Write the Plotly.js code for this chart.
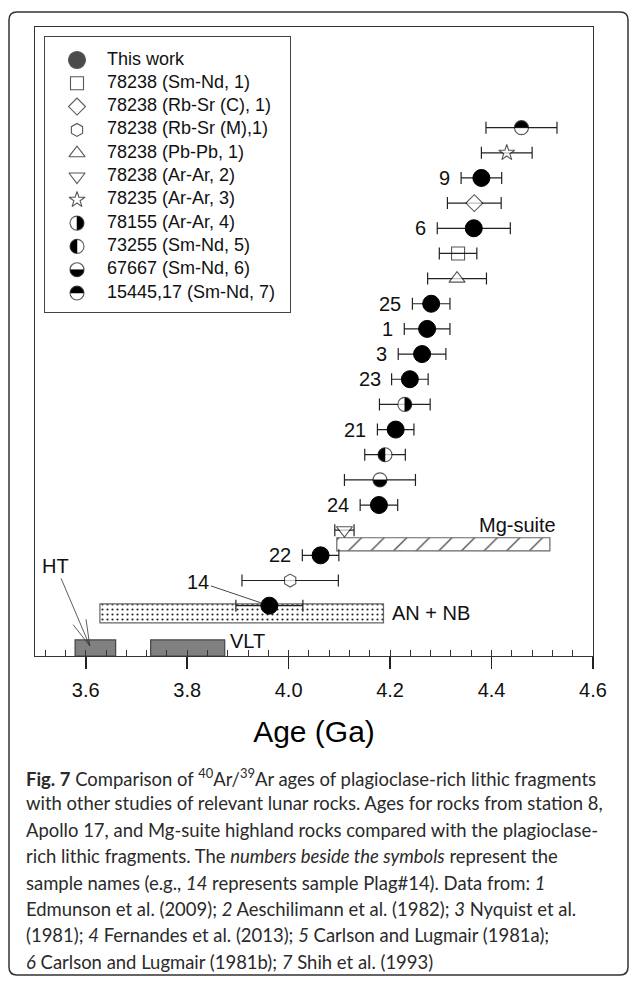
<!DOCTYPE html>
<html><head><meta charset="utf-8">
<script src="https://cdn.plot.ly/plotly-3.0.1.min.js"></script>
<style>html,body{margin:0;padding:0;background:#fff;} #chart{width:630px;height:981px;}</style>
</head><body><div id="chart"></div>
<script>
// ---------- DATA ----------
// This work (filled circles): sample names, ages (Ga), 1-sigma errors, row order
const thisWorkSamples = ['9', '6', '25', '1', '3', '23', '21', '24', '22', '14'];
const thisWorkAge     = [4.380, 4.365, 4.281, 4.273, 4.263, 4.239, 4.211, 4.178, 4.063, 3.962];
const thisWorkErr     = [0.040, 0.072, 0.037, 0.045, 0.047, 0.036, 0.036, 0.037, 0.036, 0.066];
const thisWorkRow     = [19, 17, 14, 13, 12, 11, 9, 6, 4, 2];

// Literature data
const refLabels = ['78238 (Sm-Nd, 1)', '78238 (Rb-Sr (C), 1)', '78238 (Rb-Sr (M),1)', '78238 (Pb-Pb, 1)',
                   '78238 (Ar-Ar, 2)', '78235 (Ar-Ar, 3)', '78155 (Ar-Ar, 4)', '73255 (Sm-Nd, 5)',
                   '67667 (Sm-Nd, 6)', '15445,17 (Sm-Nd, 7)'];
const refAge = [4.334, 4.366, 4.003, 4.332, 4.110, 4.430, 4.229, 4.190, 4.180, 4.459];
const refErr = [0.037, 0.053, 0.095, 0.058, 0.019, 0.050, 0.050, 0.040, 0.070, 0.070];
const refRow = [16, 18, 3, 15, 5, 20, 10, 8, 7, 21];

// Age ranges (boxes)
const rangeNames   = ['Mg-suite', 'AN + NB', 'HT', 'VLT'];
const rangeStart   = [4.095, 3.628, 3.579, 3.728];
const rangeEnd     = [4.515, 4.187, 3.659, 3.874];
const rangeRowLow  = [4.18, 1.32, 0.0, 0.0];
const rangeRowHigh = [4.70, 2.07, 0.64, 0.64];

const xTicks = [3.6, 3.8, 4.0, 4.2, 4.4, 4.6];

const captionLines = [
  '<b>Fig. 7</b> Comparison of <sup>40</sup>Ar/<sup>39</sup>Ar ages of plagioclase-rich lithic fragments',
  'with other studies of relevant lunar rocks. Ages for rocks from station 8,',
  'Apollo 17, and Mg-suite highland rocks compared with the plagioclase-',
  'rich lithic fragments. The <i>numbers beside the symbols</i> represent the',
  'sample names (e.g., <i>14</i> represents sample Plag#14). Data from: <i>1</i>',
  'Edmunson et al. (2009); <i>2</i> Aeschilimann et al. (1982); <i>3</i> Nyquist et al.',
  '(1981); <i>4</i> Fernandes et al. (2013); <i>5</i> Carlson and Lugmair (1981a);',
  '<i>6</i> Carlson and Lugmair (1981b); <i>7</i> Shih et al. (1993)'
];

// ---------- STYLE ----------
const refSymbols = ['square', 'diamond', 'hexagon', 'triangle-up', 'triangle-down', 'star',
                    'circle', 'circle', 'circle', 'circle'];
const refFill    = ['rgba(0,0,0,0)', 'white', 'white', 'white', 'white', 'white', 'white', 'white', 'white', 'white'];
const refSize    = [13, 13, 13, 14, 14, 12, 14, 14, 14, 14];
const refHalf    = [null, null, null, null, null, null, 'right', 'left', 'bottom', 'top'];

const FONT = 'Arial, "Liberation Sans", Helvetica, sans-serif';
const L = 35, R = 593, T = 27, B = 656, W = 630, H = 981;
const pX = p => (p - L) / (R - L);
const pY = p => (B - p) / (B - T);

function halfDisk(r, side) {
  const k = +(0.5523 * r).toFixed(3), q = +r.toFixed(3);
  switch (side) {
    case 'top':    return `M${-q},0 C${-q},${k} ${-k},${q} 0,${q} C${k},${q} ${q},${k} ${q},0 Z`;
    case 'bottom': return `M${-q},0 C${-q},${-k} ${-k},${-q} 0,${-q} C${k},${-q} ${q},${-k} ${q},0 Z`;
    case 'right':  return `M0,${q} C${k},${q} ${q},${k} ${q},0 C${q},${-k} ${k},${-q} 0,${-q} Z`;
    case 'left':   return `M0,${q} C${-k},${q} ${-q},${k} ${-q},0 C${-q},${-k} ${-k},${-q} 0,${-q} Z`;
  }
}

const traces = [];
const shapes = [];
const annotations = [];

// Range boxes
const rangeStyle = [
  {color: 'white', pattern: {shape: '/', fgcolor: '#222', bgcolor: 'white', size: 16, solidity: 0.07, fillmode: 'replace'}, line: '#666'},
  {color: 'white', pattern: {shape: '.', fgcolor: '#222', bgcolor: 'white', size: 5, solidity: 0.15, fillmode: 'replace'}, line: '#666'},
  {color: '#808080', pattern: null, line: '#444'},
  {color: '#808080', pattern: null, line: '#444'}
];
rangeNames.forEach((n, i) => {
  const m = {color: rangeStyle[i].color, line: {color: rangeStyle[i].line, width: 1.2}};
  if (rangeStyle[i].pattern) m.pattern = rangeStyle[i].pattern;
  traces.push({
    type: 'bar', orientation: 'h', name: n,
    y: [(rangeRowLow[i] + rangeRowHigh[i]) / 2],
    x: [rangeEnd[i] - rangeStart[i]],
    base: [rangeStart[i]],
    width: [rangeRowHigh[i] - rangeRowLow[i]],
    marker: m, showlegend: false, xaxis: 'x', yaxis: 'y'
  });
});

const errStyle = {type: 'data', color: '#222', thickness: 1.2, width: 6};

// Literature points
traces.push({
  type: 'scatter', mode: 'markers', name: 'literature',
  x: refAge, y: refRow,
  error_x: Object.assign({array: refErr}, errStyle),
  marker: {symbol: refSymbols, size: refSize, color: refFill, line: {color: '#111', width: 1.1}},
  showlegend: false
});

// This work
traces.push({
  type: 'scatter', mode: 'markers', name: 'This work',
  x: thisWorkAge, y: thisWorkRow,
  error_x: Object.assign({array: thisWorkErr}, errStyle),
  marker: {symbol: 'circle', size: 17, color: 'black', line: {color: 'black', width: 1}},
  showlegend: false
});

// Half-filled circles in plot
refHalf.forEach((h, i) => {
  if (!h) return;
  shapes.push({type: 'path', xref: 'x', yref: 'y', xsizemode: 'pixel', ysizemode: 'pixel',
    xanchor: refAge[i], yanchor: refRow[i], path: halfDisk(6.6, h),
    fillcolor: 'black', line: {color: 'black', width: 0.5}, layer: 'above'});
});

// Sample labels
thisWorkSamples.forEach((s, i) => {
  if (s === '14') {
    annotations.push({x: thisWorkAge[i], y: thisWorkRow[i], xref: 'x', yref: 'y', text: s,
      showarrow: true, arrowhead: 0, arrowwidth: 0.9, arrowcolor: '#333', ax: -71, ay: -24, standoff: 9,
      font: {family: FONT, size: 20, color: '#111'}});
  } else {
    annotations.push({x: thisWorkAge[i] - thisWorkErr[i], y: thisWorkRow[i], xref: 'x', yref: 'y', text: s,
      showarrow: false, xanchor: 'right', yanchor: 'middle', xshift: -9,
      font: {family: FONT, size: 20, color: '#111'}});
  }
});

// Range labels
const lblFont = {family: FONT, size: 20, color: '#111'};
annotations.push({x: rangeEnd[0], y: rangeRowHigh[0], xref: 'x', yref: 'y', text: rangeNames[0], showarrow: false,
  xanchor: 'right', yanchor: 'bottom', xshift: 8, yshift: 0, font: lblFont});
annotations.push({x: rangeEnd[1], y: (rangeRowLow[1] + rangeRowHigh[1]) / 2, xref: 'x', yref: 'y', text: rangeNames[1],
  showarrow: false, xanchor: 'left', yanchor: 'middle', xshift: 6, font: lblFont});
annotations.push({x: rangeEnd[3], y: (rangeRowLow[3] + rangeRowHigh[3]) / 2 + 0.28, xref: 'x', yref: 'y', text: rangeNames[3],
  showarrow: false, xanchor: 'left', yanchor: 'middle', xshift: 3, font: lblFont});
// HT pointer
const htTipX = 3.608, htTipY = 0.40, htAx = -34, htAy = -80;
annotations.push({x: htTipX, y: htTipY, xref: 'x', yref: 'y', text: rangeNames[2], showarrow: true,
  arrowhead: 0, arrowwidth: 0.8, arrowcolor: '#333', ax: htAx, ay: htAy, font: lblFont});
(function () {
  const len = Math.hypot(htAx, htAy);
  const ux = htAx / len, uy = -htAy / len;
  [15, -15].forEach(deg => {
    const a = deg * Math.PI / 180;
    const vx = ux * Math.cos(a) - uy * Math.sin(a), vy = ux * Math.sin(a) + uy * Math.cos(a);
    shapes.push({type: 'line', xref: 'x', yref: 'y', xsizemode: 'pixel', ysizemode: 'pixel',
      xanchor: htTipX, yanchor: htTipY, x0: 0, y0: 0, x1: vx * 27, y1: vy * 27,
      line: {color: '#333', width: 0.8}, layer: 'above'});
  });
})();

// ---------- LEGEND (own small axes) ----------
const legLabels = ['This work'].concat(refLabels);
const legSymbols = ['circle'].concat(refSymbols);
const legFill = ['black'].concat(refFill);
const legSize = [17].concat(refSize);
const legHalf = [null].concat(refHalf);
const legTop = 37, legBottom = 312, legLeft = 45, legRight = 290;
const legRowY = legLabels.map((_, i) => 23 + i * 23.3);
const legSymX = 32, legTextX = 62;

traces.push({type: 'scatter', mode: 'markers', xaxis: 'x2', yaxis: 'y2',
  x: legLabels.map(() => legSymX), y: legRowY,
  marker: {symbol: legSymbols, size: legSize, color: legFill, line: {color: '#111', width: 1.1}},
  showlegend: false});
traces.push({type: 'scatter', mode: 'text', xaxis: 'x2', yaxis: 'y2',
  x: legLabels.map(() => legTextX), y: legRowY, text: legLabels, textposition: 'middle right',
  textfont: {family: FONT, size: 18, color: '#111'}, showlegend: false});
legHalf.forEach((h, i) => {
  if (!h) return;
  shapes.push({type: 'path', xref: 'x2', yref: 'y2', xsizemode: 'pixel', ysizemode: 'pixel',
    xanchor: legSymX, yanchor: legRowY[i], path: halfDisk(6.6, h),
    fillcolor: 'black', line: {color: 'black', width: 0.5}, layer: 'above'});
});

// ---------- Outer frame ----------
(function () {
  const x0 = pX(9), x1 = pX(628), yT = pY(12), yB = pY(975);
  const rx = 8 / (R - L), ry = 8 / (B - T);
  shapes.push({type: 'path', xref: 'paper', yref: 'paper', layer: 'above',
    path: `M${x0 + rx},${yT} L${x1 - rx},${yT} Q${x1},${yT} ${x1},${yT - ry} L${x1},${yB + ry} Q${x1},${yB} ${x1 - rx},${yB} L${x0 + rx},${yB} Q${x0},${yB} ${x0},${yB + ry} L${x0},${yT - ry} Q${x0},${yT} ${x0 + rx},${yT} Z`,
    line: {color: '#333', width: 1.5}, fillcolor: 'rgba(0,0,0,0)'});
})();

// ---------- Caption ----------
(function () {
  const c = document.createElement('canvas').getContext('2d');
  c.font = '100px Lato';
  let maxW = 0;
  captionLines.forEach(t => {
    const plain = t.replace(/<sup>(.*?)<\/sup>/g, '$1').replace(/<[^>]+>/g, '');
    maxW = Math.max(maxW, c.measureText(plain).width);
  });
  const fs = Math.min(20, 584 / maxW * 100);
  captionLines.forEach((t, i) => {
    annotations.push({xref: 'paper', yref: 'paper', x: pX(24), y: pY(777 + i * 26.4), xanchor: 'left', yanchor: 'middle',
      text: t, showarrow: false, align: 'left', font: {family: 'Lato, "Open Sans", sans-serif', size: fs, color: '#2a2a2a'}});
  });
})();

const layout = {
  width: W, height: H,
  margin: {l: L, r: W - R, t: T, b: H - B, pad: 0},
  paper_bgcolor: 'white', plot_bgcolor: 'rgba(0,0,0,0)',
  barmode: 'overlay', showlegend: false,
  font: {family: FONT, color: '#111'},
  xaxis: {
    range: [3.5, 4.6], tickmode: 'linear', tick0: xTicks[0], dtick: 0.2, tickformat: '.1f',
    ticks: 'outside', ticklen: 12, tickwidth: 1.6, tickcolor: '#222',
    minor: {ticks: 'inside', dtick: 0.04, ticklen: 6, tickwidth: 1, tickcolor: '#333', showgrid: false},
    showline: true, mirror: true, linecolor: '#333', linewidth: 1.4,
    showgrid: false, zeroline: false, ticklabelstandoff: 4,
    tickfont: {family: FONT, size: 20, color: '#111'},
    title: {text: 'Age (Ga)', font: {family: FONT, size: 30, color: '#000'}, standoff: 20}
  },
  yaxis: {
    range: [0, 25], showline: true, mirror: true, linecolor: '#333', linewidth: 1.4,
    ticks: '', showticklabels: false, showgrid: false, zeroline: false
  },
  xaxis2: {domain: [pX(legLeft), pX(legRight)], anchor: 'y2', range: [0, legRight - legLeft],
    showline: true, mirror: true, linecolor: '#444', linewidth: 1.2,
    showticklabels: false, ticks: '', showgrid: false, zeroline: false},
  yaxis2: {domain: [pY(legBottom), pY(legTop)], anchor: 'x2', range: [legBottom - legTop, 0],
    showline: true, mirror: true, linecolor: '#444', linewidth: 1.2,
    showticklabels: false, ticks: '', showgrid: false, zeroline: false},
  shapes: shapes,
  annotations: annotations
};

Plotly.newPlot('chart', traces, layout, {staticPlot: true, displayModeBar: false}).then(gd => {
  // remove empty placeholder title nodes that Plotly leaves in the SVG
  gd.querySelectorAll('text').forEach(t => { if (!t.textContent.trim()) t.remove(); });
});
</script>
</body></html>
